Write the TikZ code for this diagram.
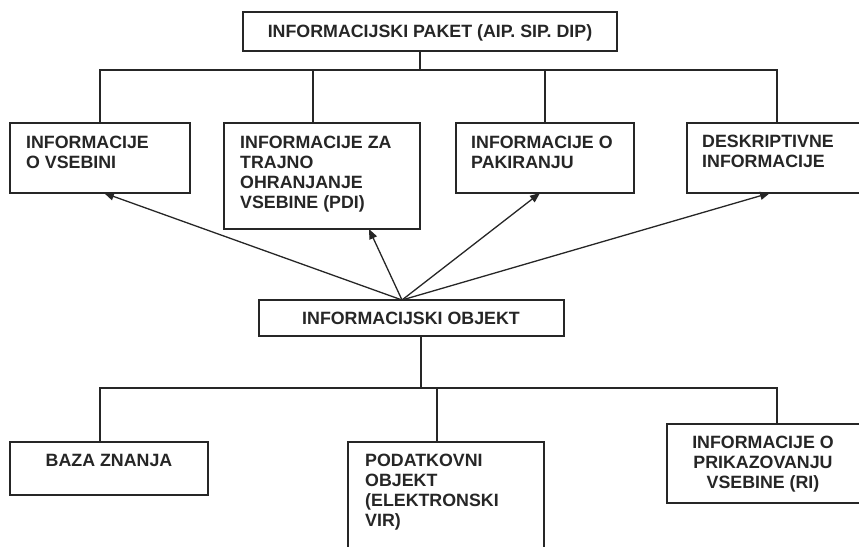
\documentclass[tikz,border=0pt]{standalone}
\usepackage{fontspec}
\setmainfont{Liberation Sans}
\usetikzlibrary{arrows.meta,calc}
\begin{document}
\begin{tikzpicture}[x=1pt,y=-1pt,
  box/.style={draw=black!85, line width=1.3pt, fill=white, inner sep=0pt, outer sep=0pt, anchor=north west},
  lblL/.style={inner sep=0pt, font=\fontsize{17.8}{20}\selectfont\bfseries, align=left, anchor=north west, text=black!85},
  lblC/.style={inner sep=0pt, font=\fontsize{17.8}{20}\selectfont\bfseries, align=center, anchor=north, text=black!85},
  tree/.style={draw=black!85, line width=1.3pt},
  arr/.style={draw=black!85, line width=1.3pt, -{Triangle[length=10pt,width=8pt]}}]
\useasboundingbox (0,0) rectangle (859,546);
% boxes
\node[box, minimum width=374pt, minimum height=39pt] (pak) at (243,12) {};
\node[box, minimum width=180pt, minimum height=70pt] (b1) at (10,123) {};
\node[box, minimum width=196pt, minimum height=106pt] (b2) at (224,123) {};
\node[box, minimum width=178pt, minimum height=70pt] (b3) at (456,123) {};
\node[box, minimum width=240pt, minimum height=70pt] (b4) at (687,123) {};
\node[box, minimum width=305pt, minimum height=36pt] (obj) at (259,300) {};
\node[box, minimum width=198pt, minimum height=53pt] (k1) at (10,442) {};
\node[box, minimum width=196pt, minimum height=140pt] (k2) at (348,442) {};
\node[box, minimum width=240pt, minimum height=79pt] (k3) at (667,424) {};
% texts
\node[lblC] (tpak) at (430,23.5) {\strut INFORMACIJSKI PAKET (AIP. SIP. DIP)};
\node[lblL] (tb1) at (26,134) {\strut INFORMACIJE\\O VSEBINI};
\node[lblL] (tb2) at (240,134) {\strut INFORMACIJE ZA\\TRAJNO\\OHRANJANJE\\VSEBINE (PDI)};
\node[lblL] (tb3) at (471,134) {\strut INFORMACIJE O\\PAKIRANJU};
\node[lblL] (tb4) at (702,133) {\strut DESKRIPTIVNE\\INFORMACIJE};
\node[lblC] (tobj) at (411,310) {\strut INFORMACIJSKI OBJEKT};
\node[lblC] (tk1) at (109,452) {\strut BAZA ZNANJA};
\node[lblL] (tk2) at (365,452) {\strut PODATKOVNI\\OBJEKT\\(ELEKTRONSKI\\VIR)};
\node[lblC] (tk3) at (763,434) {\strut INFORMACIJE O\\PRIKAZOVANJU\\VSEBINE (RI)};
% upper tree
\coordinate (j1) at (420,70);
\coordinate (d1) at (100,70);
\coordinate (d2) at (313,70);
\coordinate (d3) at (545,70);
\coordinate (d4) at (777,70);
\draw[tree] (pak.south -| j1) -- (j1);
\draw[tree] (d1 |- b1.north) -- (d1) -- (d4) -- (d4 |- b4.north);
\draw[tree] (d2) -- (d2 |- b2.north);
\draw[tree] (d3) -- (d3 |- b3.north);
% lower tree
\coordinate (j2) at (421,388);
\coordinate (e1) at (100,388);
\coordinate (e2) at (437,388);
\coordinate (e3) at (777,388);
\draw[tree] (obj.south -| j2) -- (j2);
\draw[tree] (e1 |- k1.north) -- (e1) -- (e3) -- (e3 |- k3.north);
\draw[tree] (e2) -- (e2 |- k2.north);
% arrows
\coordinate (src) at ($(obj.north west)+(143,0)$);
\coordinate (t1) at ($(b1.south west)+(94,0)$);
\coordinate (t2) at ($(b2.south west)+(145,0)$);
\coordinate (t3) at ($(b3.south west)+(84,0)$);
\coordinate (t4) at ($(b4.south west)+(83,0)$);
\draw[arr] (src) -- (t1);
\draw[arr] (src) -- (t2);
\draw[arr] (src) -- (t3);
\draw[arr] (src) -- (t4);
\end{tikzpicture}
\end{document}
